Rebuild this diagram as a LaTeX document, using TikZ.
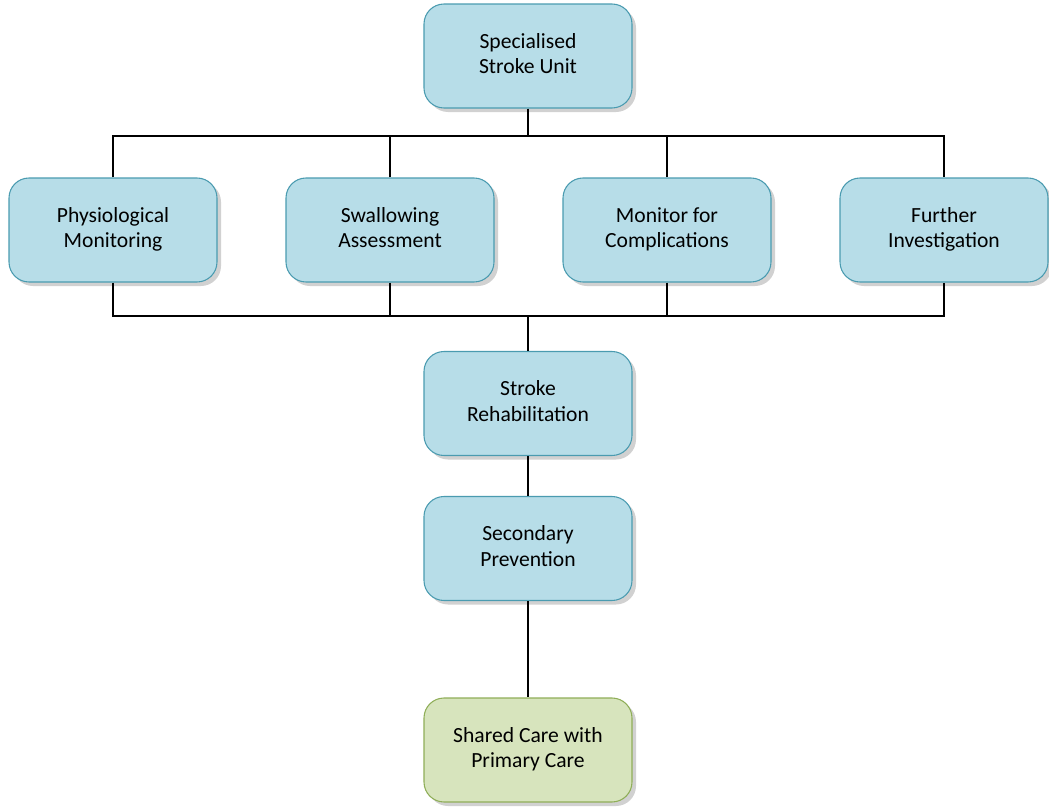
\documentclass[tikz,border=0pt]{standalone}
\usepackage{fontspec}
\setmainfont{Carlito}
\usetikzlibrary{shadows}
\definecolor{bfill}{HTML}{B7DDE8}
\definecolor{bdraw}{HTML}{4A9BB0}
\definecolor{gfill}{HTML}{D7E4BD}
\definecolor{gdraw}{HTML}{8FAE58}
\tikzset{
  box/.style={rectangle, rounded corners=15pt, minimum width=156pt, minimum height=78pt,
    fill=bfill, draw=bdraw, line width=0.8pt, align=center, font=\fontsize{16.2}{19}\selectfont,
    drop shadow={shadow xshift=3pt, shadow yshift=-3pt, opacity=0.3, fill=black!60}},
  gbox/.style={box, fill=gfill, draw=gdraw},
  conn/.style={draw=black, line width=1.1pt}
}
\begin{document}
\begin{tikzpicture}[x=0.75pt, y=-0.75pt]
\useasboundingbox (0,0) rectangle (1049,810);
\node[box] (ssu) at (528,56) {\strut Specialised\\\strut Stroke Unit};
\node[box] (pm) at (113,230) {\strut Physiological\\\strut Monitoring};
\node[box] (sa) at (390,230) {\strut Swallowing\\\strut Assessment};
\node[box] (mc) at (667,230) {\strut Monitor for\\\strut Complications};
\node[box] (fi) at (944,230) {\strut Further\\\strut Investigation};
\node[box] (sr) at (528,403.5) {\strut Stroke\\\strut Rehabilitation};
\node[box] (sp) at (528,548.5) {\strut Secondary\\\strut Prevention};
\node[gbox] (sc) at (528,750) {\strut Shared Care with\\\strut Primary Care};
\coordinate (b1) at (528,136);
\coordinate (b2) at (528,316);
\draw[conn] (ssu.south) -- (b1);
\draw[conn] (pm.north) |- (b1) -| (fi.north);
\draw[conn] (sa.north) -- (sa.north |- b1);
\draw[conn] (mc.north) -- (mc.north |- b1);
\draw[conn] (pm.south) |- (b2) -| (fi.south);
\draw[conn] (sa.south) -- (sa.south |- b2);
\draw[conn] (mc.south) -- (mc.south |- b2);
\draw[conn] (b2) -- (sr.north);
\draw[conn] (sr.south) -- (sp.north);
\draw[conn] (sp.south) -- (sc.north);
\end{tikzpicture}
\end{document}
